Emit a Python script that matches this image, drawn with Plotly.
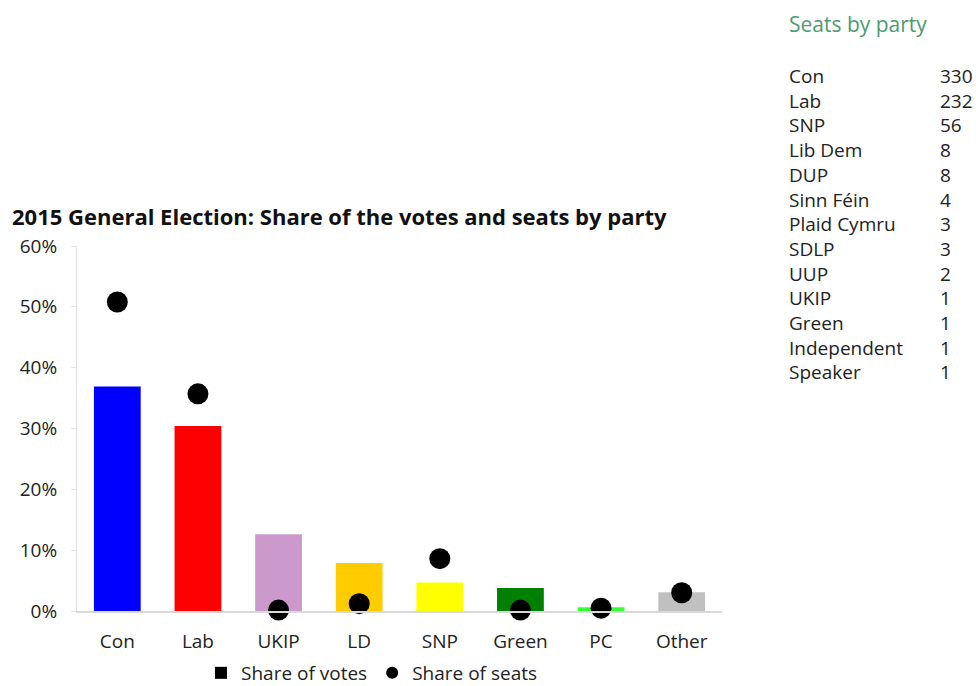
import plotly.graph_objects as go

parties = ["Con", "Lab", "UKIP", "LD", "SNP", "Green", "PC", "Other"]
vote_share = [0.369, 0.304, 0.126, 0.079, 0.047, 0.038, 0.006, 0.031]
seat_share = [0.508, 0.357, 0.0015, 0.012, 0.086, 0.0015, 0.0046, 0.030]
bar_colors = ["#0000FF", "#FF0000", "#CC99CC", "#FFCC00", "#FFFF00", "#008000", "#33FF33", "#C0C0C0"]

table_names = ["Con", "Lab", "SNP", "Lib Dem", "DUP", "Sinn Féin", "Plaid Cymru",
               "SDLP", "UUP", "UKIP", "Green", "Independent", "Speaker"]
table_seats = [330, 232, 56, 8, 8, 4, 3, 3, 2, 1, 1, 1, 1]

W, H = 976, 686
L, R, T, B = 77, 254, 246, 75
FONT = "Open Sans"

fig = go.Figure()
fig.add_trace(go.Bar(x=parties, y=vote_share, marker=dict(color=bar_colors, line=dict(width=0)),
                     width=0.58, showlegend=False, name="Share of votes"))
fig.add_trace(go.Scatter(x=[None], y=[None], mode="markers", name="Share of votes",
                         marker=dict(symbol="square", color="black", size=11)))
fig.add_trace(go.Scatter(x=parties, y=seat_share, mode="markers", name="Share of seats",
                         marker=dict(color="black", size=21), cliponaxis=False))

def px2paper(px, py):
    return (px - L) / (W - L - R), (H - B - py) / (H - T - B)

annotations = []
tx, ty = px2paper(10, 216)
annotations.append(dict(text="<b>2015 General Election: Share of the votes and seats by party</b>",
                        x=tx, y=ty, xref="paper", yref="paper", xanchor="left", yanchor="middle",
                        showarrow=False, font=dict(size=22, color="#111", family=FONT)))
hx, hy = px2paper(787, 24)
annotations.append(dict(text="Seats by party", x=hx, y=hy, xref="paper", yref="paper",
                        xanchor="left", yanchor="middle", showarrow=False,
                        font=dict(size=21, color="#4E9A70", family=FONT)))
for i, (n, s) in enumerate(zip(table_names, table_seats)):
    py = 76 + i * 24.7
    nx, ny = px2paper(787, py)
    vx, _ = px2paper(938, py)
    annotations.append(dict(text=n, x=nx, y=ny, xref="paper", yref="paper", xanchor="left",
                            yanchor="middle", showarrow=False, font=dict(size=19, color="#222", family=FONT)))
    annotations.append(dict(text=str(s), x=vx, y=ny, xref="paper", yref="paper", xanchor="left",
                            yanchor="middle", showarrow=False, font=dict(size=19, color="#222", family=FONT)))

lx, ly = px2paper(372, 673)
fig.update_layout(
    width=W, height=H, margin=dict(l=L, r=R, t=T, b=B, autoexpand=False),
    paper_bgcolor="white", plot_bgcolor="white",
    font=dict(family=FONT, color="#222", size=16),
    annotations=annotations,
    legend=dict(orientation="h", x=lx, y=ly, xanchor="center", yanchor="middle",
                font=dict(size=19, color="#222", family=FONT), itemwidth=30,
                itemsizing="constant", tracegroupgap=0),
    xaxis=dict(range=[-0.5, 7.5], showline=True, linecolor="#D9D9D9", linewidth=1.5, ticks="",
               tickfont=dict(size=19, color="#222"), showgrid=False, ticklabelstandoff=12),
    yaxis=dict(range=[0, 0.6], dtick=0.1, tickformat=".0%", showgrid=False, zeroline=False,
               showline=True, linecolor="#E3E3E3", linewidth=1, ticks="outside", ticklen=5,
               tickcolor="#E3E3E3", tickfont=dict(size=19, color="#222"), ticklabelstandoff=10),
    bargap=0.42,
)
fig.write_html("out.html")
